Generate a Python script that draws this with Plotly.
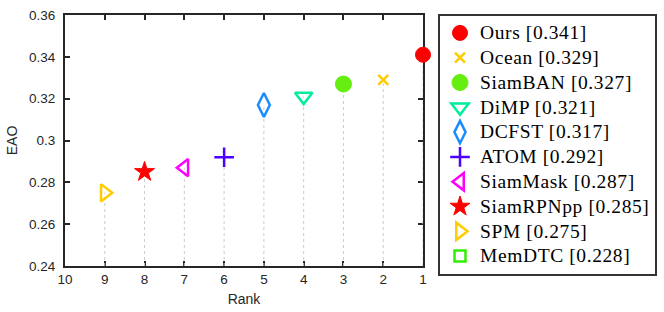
import plotly.graph_objects as go

methods = ["Ours", "Ocean", "SiamBAN", "DiMP", "DCFST", "ATOM", "SiamMask", "SiamRPNpp", "SPM", "MemDTC"]
eao = [0.341, 0.329, 0.327, 0.321, 0.317, 0.292, 0.287, 0.285, 0.275, 0.228]
rank = [1, 2, 3, 4, 5, 6, 7, 8, 9, 10]
symbols = ["circle", "x-thin", "circle", "triangle-down-open", "diamond-tall-open", "cross-thin",
           "triangle-left-open", "star", "triangle-right-open", "square-open"]
colors = ["#ff0000", "#ffcc00", "#66ee11", "#00ee99", "#1a8cff", "#4d00ff",
          "#ff00ff", "#ff0000", "#ffcc00", "#33ee00"]
sizes = [15, 10, 16, 15, 17, 14, 15, 15, 15, 11]

y_ticks = [0.24, 0.26, 0.28, 0.30, 0.32, 0.34, 0.36]
y_ticktext = ["0.24", "0.26", "0.28", "0.3", "0.32", "0.34", "0.36"]
x_ticks = [10, 9, 8, 7, 6, 5, 4, 3, 2, 1]
y_min, y_max = 0.24, 0.36

fig = go.Figure()

# dotted stems from axis bottom up to each marker
sx, sy = [], []
for r, v in zip(rank, eao):
    if v >= y_min:
        sx += [r, r, None]
        sy += [y_min, v, None]
fig.add_trace(go.Scatter(x=sx, y=sy, mode="lines", showlegend=False, hoverinfo="skip",
                         line=dict(color="#cccccc", width=1, dash="dot")))

for i, m in enumerate(methods):
    line_w = 2.5 if "open" in symbols[i] or "thin" in symbols[i] else 1
    label = f"{m} [{eao[i]:.3f}]"
    fig.add_trace(go.Scatter(
        x=[rank[i]], y=[eao[i]], mode="markers",
        name=f'<span style="font-size:19.5px;letter-spacing:0.6px">{label}</span>',
        legendgroup=str(i),
        cliponaxis=(eao[i] < y_min),
        marker=dict(symbol=symbols[i], size=sizes[i], color=colors[i],
                    line=dict(color=colors[i], width=line_w)),
    ))

sans = "Liberation Sans"
axis_common = dict(showline=True, linecolor="#262626", linewidth=2, mirror="ticks",
                   ticks="inside", ticklen=5, tickwidth=1.5, tickcolor="#262626",
                   showgrid=False, zeroline=False, layer="below traces", automargin=False,
                   tickfont=dict(family=sans, size=13.5, color="#262626"))

fig.update_layout(
    width=664, height=312,
    margin=dict(l=65, r=241, t=15, b=46, autoexpand=False),
    paper_bgcolor="white", plot_bgcolor="white",
    xaxis=dict(range=[10, 1], tickvals=x_ticks, ticktext=[str(t) for t in x_ticks],
               title=dict(text="Rank", standoff=8,
                          font=dict(family=sans, size=14, color="#262626")),
               **axis_common),
    yaxis=dict(range=[y_min, y_max], tickvals=y_ticks, ticktext=y_ticktext,
               ticklabelstandoff=5,
               title=dict(text="EAO", standoff=8,
                          font=dict(family=sans, size=14, color="#262626")),
               **axis_common),
    legend=dict(x=(438 - 65) / 358, xanchor="left", y=1.004, yanchor="top",
                bordercolor="#333333", borderwidth=2, bgcolor="white",
                font=dict(family="Liberation Serif", size=16, color="black"),
                tracegroupgap=1, itemsizing="trace", maxheight=300),
)

fig.write_html("out.html", config={"displayModeBar": False},
               post_script="document.body.style.margin='0';")
